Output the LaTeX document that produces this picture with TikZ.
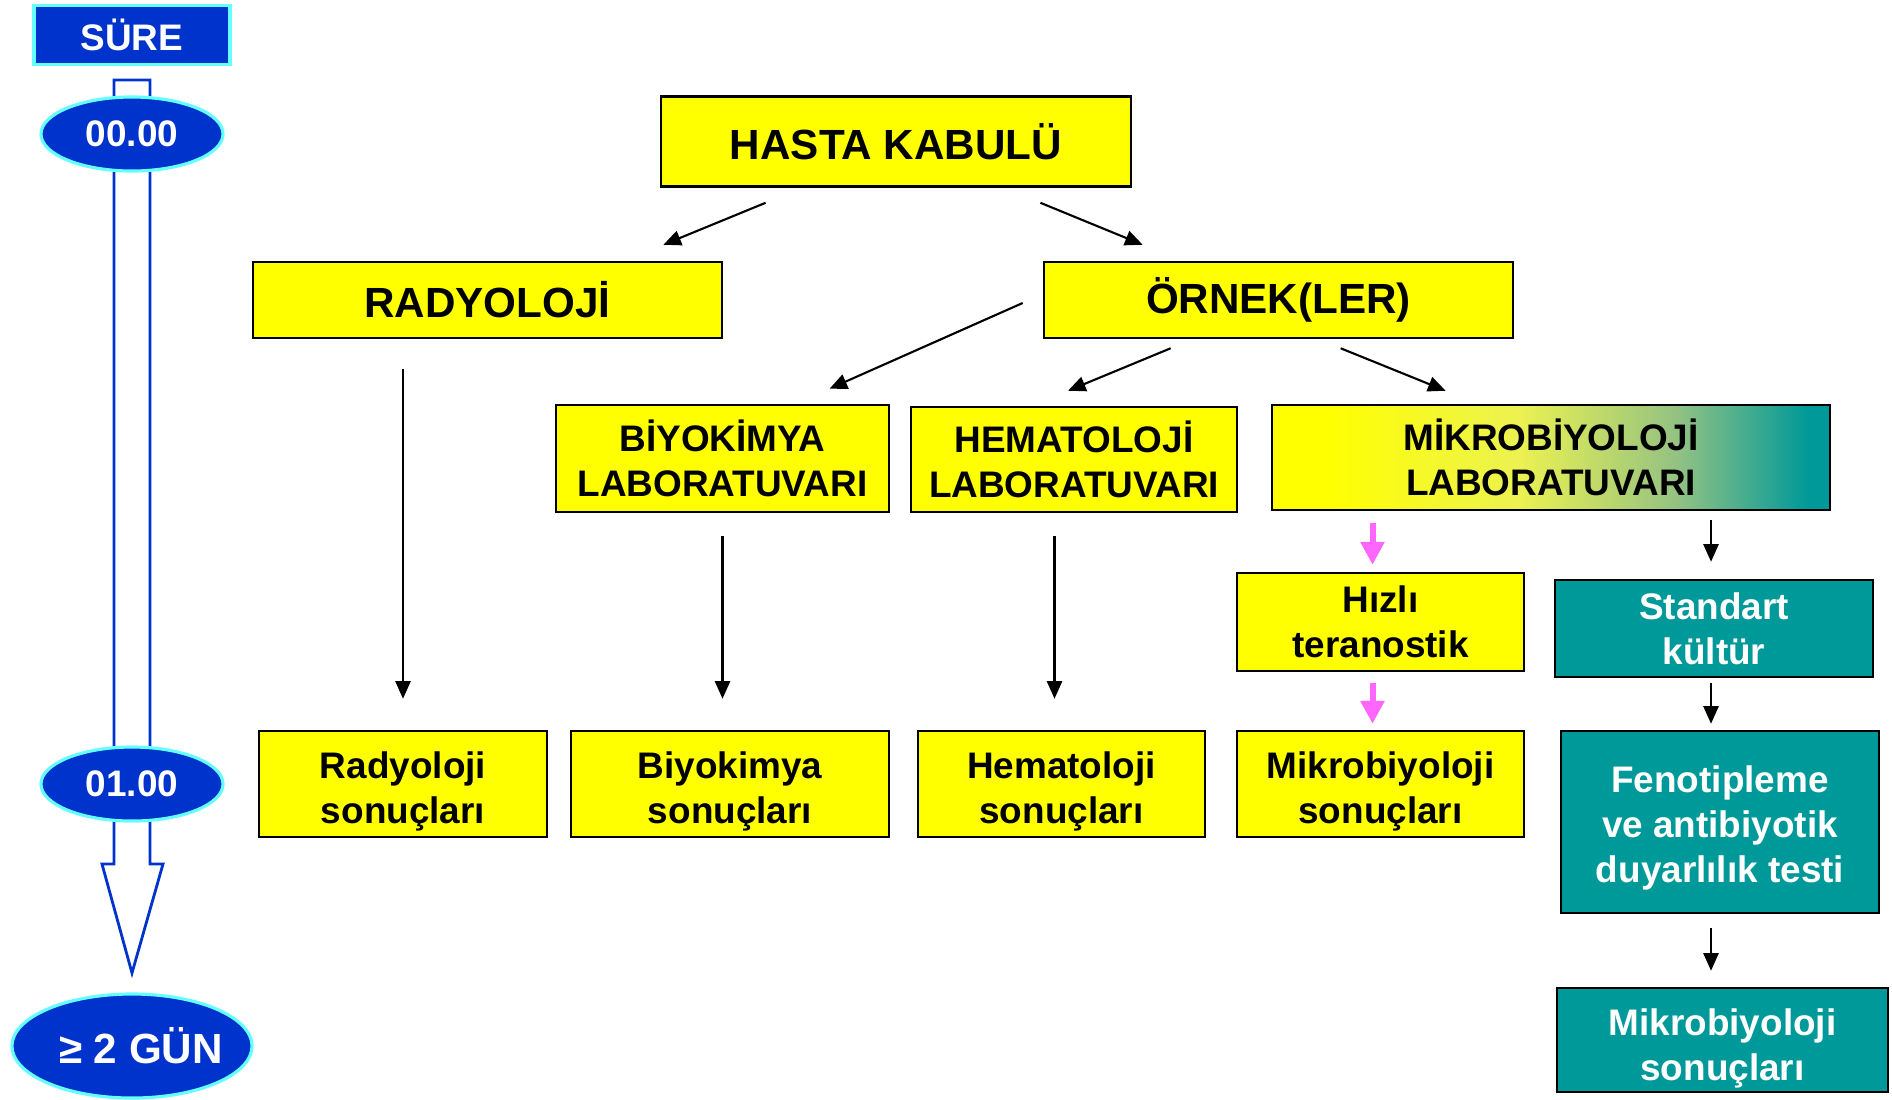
\documentclass[tikz,border=0pt]{standalone}
\usepackage{fontspec}
\setmainfont{Liberation Sans}
\usetikzlibrary{arrows.meta}
\usetikzlibrary{calc}
\usetikzlibrary{shapes.geometric}
\definecolor{cyellow}{RGB}{255,255,0}
\definecolor{cblue}{RGB}{0,51,204}
\definecolor{ccyan}{RGB}{102,255,255}
\definecolor{cteal}{RGB}{0,153,153}
\definecolor{cpink}{RGB}{255,102,255}
\definecolor{cmixa}{RGB}{236,242,80}
\definecolor{cmixb}{RGB}{150,195,130}
\pgfdeclarehorizontalshading{mikroshade}{100bp}{color(0bp)=(cyellow); color(25bp)=(cyellow); color(30bp)=(cyellow); color(47bp)=(cmixa); color(61bp)=(cmixb); color(73bp)=(cteal); color(100bp)=(cteal)}
\newcommand{\topstrut}[1]{\rule{0pt}{#1}}

\begin{document}
\begin{tikzpicture}[x=0.01cm, y=-0.01cm,
    box/.style={draw=black, line width=0.7pt, align=center, inner sep=0pt, font=\fontsize{10.5}{12.8}\selectfont\bfseries},
    ybox/.style={box, fill=cyellow},
    tbox/.style={box, fill=cteal, text=white},
    headbox/.style={ybox, font=\fontsize{12}{14}\selectfont\bfseries},
    lowtext/.style={text depth=0pt},
    bubble/.style={ellipse, draw=ccyan, line width=0.9pt, fill=cblue, text=white, inner sep=0pt, font=\fontsize{10.5}{12}\selectfont\bfseries},
    arr/.style={-{Triangle[length=5pt, width=4.3pt]}, line width=0.6pt},
    pinkarr/.style={-{Triangle[length=6.5pt, width=6.5pt]}, line width=1.7pt, draw=cpink}]
  \useasboundingbox (0,0) rectangle (1892,1099);

  % time axis
  \draw [cblue, line width=0.8pt, fill=white] (114,80) -- (150,80) -- (150,864) -- (163,864) -- (132,973) -- (102,864) -- (114,864) -- cycle;
  \node [draw=ccyan, line width=0.9pt, fill=cblue, text=white, minimum width=1.96cm, minimum height=0.59cm, inner sep=0pt, font=\fontsize{10.5}{12}\selectfont\bfseries] (sure) at (132,35) {SÜRE};
  \node [bubble, minimum width=1.82cm, minimum height=0.74cm] (t0) at (132,134) {00.00};
  \node [bubble, minimum width=1.82cm, minimum height=0.74cm] (t1) at (132,784) {01.00};
  \node [bubble, minimum width=2.40cm, minimum height=1.04cm, font=\fontsize{12}{14}\selectfont\bfseries] (t2) at (132,1046) {\makebox[0pt]{\hspace{0.18cm}≥ 2 GÜN}};

  % top levels
  \node [headbox, minimum width=4.70cm, minimum height=0.90cm] (hasta) at (896,141.5) {HASTA KABULÜ};
  \node [headbox, minimum width=4.69cm, minimum height=0.76cm] (radyo) at (487.5,300) {RADYOLOJİ};
  \node [headbox, minimum width=4.69cm, minimum height=0.76cm] (ornek) at (1278.5,300) {ÖRNEK(LER)};

  % laboratories
  \node [ybox, minimum width=3.33cm, minimum height=1.07cm] (biyolab) at (722.5,458.5) {BİYOKİMYA\\LABORATUVARI};
  \node [ybox, minimum width=3.26cm, minimum height=1.05cm] (hemalab) at (1074,459.5) {HEMATOLOJİ\\LABORATUVARI};
  \node [box, shading=mikroshade, minimum width=5.58cm, minimum height=1.05cm] (mikrolab) at (1551,457.5) {MİKROBİYOLOJİ\\LABORATUVARI};

  % microbiology steps
  \node [ybox, minimum width=2.87cm, minimum height=0.98cm] (hizli) at (1380.5,622) {Hızlı\\teranostik};
  \node [tbox, minimum width=3.18cm, minimum height=0.97cm] (standart) at (1714,628.5) {Standart\\kültür};
  \node [tbox, lowtext, minimum width=3.18cm, minimum height=1.82cm] (fenotip) at (1720,822) {\topstrut{9pt}Fenotipleme\\ve antibiyotik\\duyarlılık testi};

  % results
  \node [ybox, lowtext, minimum width=2.88cm, minimum height=1.06cm] (radsonuc) at (403,784) {\topstrut{9.65pt}Radyoloji\\sonuçları};
  \node [ybox, lowtext, minimum width=3.18cm, minimum height=1.06cm] (biyosonuc) at (730,784) {\topstrut{9.65pt}Biyokimya\\sonuçları};
  \node [ybox, lowtext, minimum width=2.87cm, minimum height=1.06cm] (hemasonuc) at (1061.5,784) {\topstrut{9.65pt}Hematoloji\\sonuçları};
  \node [ybox, lowtext, minimum width=2.87cm, minimum height=1.06cm] (mikrosonuc) at (1380.5,784) {\topstrut{9.65pt}Mikrobiyoloji\\sonuçları};
  \node [tbox, lowtext, minimum width=3.31cm, minimum height=1.04cm] (kultursonuc) at (1722.5,1040) {\topstrut{10.4pt}Mikrobiyoloji\\sonuçları};

  % branching arrows
  \draw [arr] ($(hasta.south west)+(106,15)$) -- ($(radyo.north east)+(-60,-16)$);
  \draw [arr] ($(hasta.south east)+(-92,15)$) -- ($(ornek.north west)+(100,-16)$);
  \draw [arr] ($(ornek.west)+(-20,3)$) -- ($(biyolab.north)+(107,-15)$);
  \draw [arr] ($(ornek.south west)+(128,9)$) -- ($(hemalab.north)+(-6,-15)$);
  \draw [arr] ($(ornek.south west)+(298,9)$) -- ($(mikrolab.north west)+(175,-13)$);

  % arrows down to results
  \draw [arr, shorten <=0.30cm, shorten >=0.31cm] (radsonuc.north |- radyo.south) -- (radsonuc.north);
  \draw [arr, shorten <=0.23cm, shorten >=0.31cm] (biyolab.south) -- (biyolab.south |- biyosonuc.north);
  \draw [arr, shorten <=0.23cm, shorten >=0.31cm] ($(hemasonuc.north |- hemalab.south)+(-7,0)$) -- ($(hemasonuc.north)+(-7,0)$);

  % fast path
  \draw [pinkarr, shorten <=0.12cm, shorten >=0.07cm] ($(hizli.north |- mikrolab.south)+(-8,0)$) -- ($(hizli.north)+(-8,0)$);
  \draw [pinkarr, shorten <=0.11cm, shorten >=0.06cm] ($(hizli.south)+(-8,0)$) -- ($(mikrosonuc.north)+(-8,0)$);

  % standard path
  \draw [arr, shorten <=0.09cm, shorten >=0.17cm] ($(standart.north |- mikrolab.south)+(-3,0)$) -- ($(standart.north)+(-3,0)$);
  \draw [arr, shorten <=0.05cm, shorten >=0.06cm] ($(standart.south)+(-3,0)$) -- ($(standart.south |- fenotip.north)+(-3,0)$);
  \draw [arr, shorten <=0.14cm, shorten >=0.16cm] ($(fenotip.south -| standart.south)+(-3,0)$) -- ($(kultursonuc.north -| standart.south)+(-3,0)$);
\end{tikzpicture}
\end{document}
